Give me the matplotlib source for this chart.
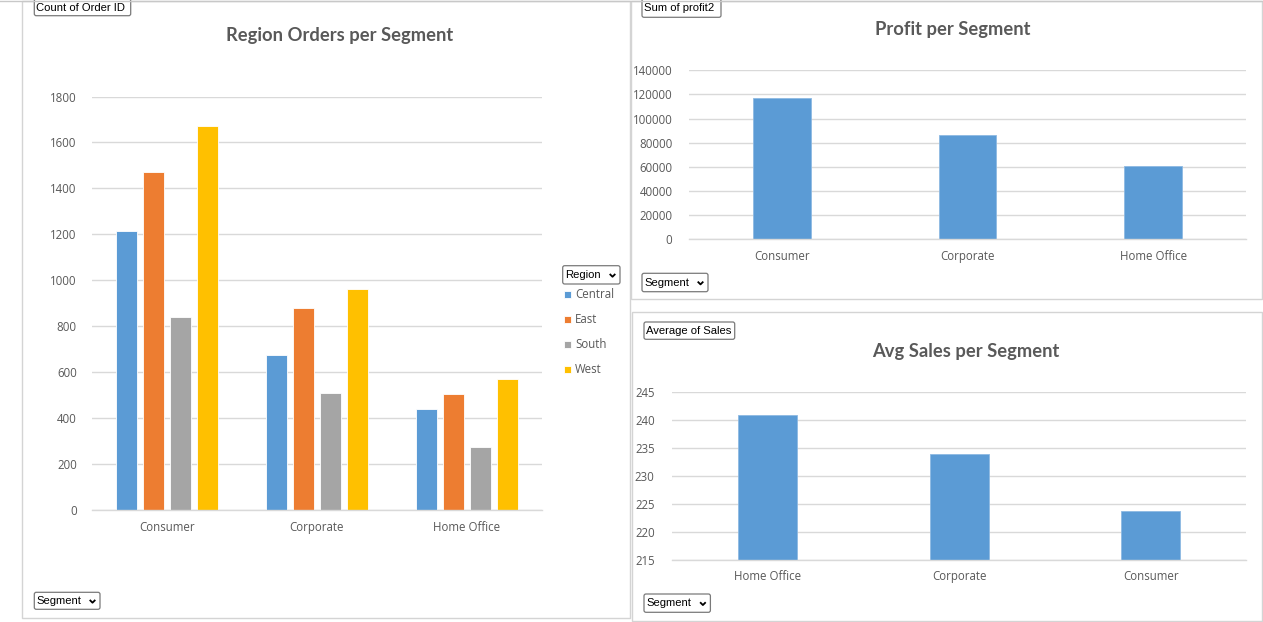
import matplotlib
matplotlib.use("Agg")
import matplotlib.pyplot as plt
import numpy as np
from matplotlib.patches import FancyBboxPatch, Rectangle
from matplotlib.lines import Line2D

# ---------------- data ----------------
segments = ["Consumer", "Corporate", "Home Office"]
regions = ["Central", "East", "South", "West"]
orders_central = [1212, 673, 438]
orders_east = [1469, 877, 502]
orders_south = [838, 510, 272]
orders_west = [1672, 960, 571]
region_orders = [orders_central, orders_east, orders_south, orders_west]
region_colors = ["#5B9BD5", "#ED7D31", "#A5A5A5", "#FFC000"]

profit_segments = ["Consumer", "Corporate", "Home Office"]
profit_values = [117300, 86600, 60300]

sales_segments = ["Home Office", "Corporate", "Consumer"]
avg_sales_values = [240.97, 233.82, 223.73]

orders_ticks = [0, 200, 400, 600, 800, 1000, 1200, 1400, 1600, 1800]
profit_ticks = [0, 20000, 40000, 60000, 80000, 100000, 120000, 140000]
sales_ticks = [215, 220, 225, 230, 235, 240, 245]

# ---------------- layout helpers ----------------
W, H = 1263, 622
fig = plt.figure(figsize=(W / 100, H / 100), dpi=100)
fig.patch.set_facecolor("white")

TICK_FONT = "Open Sans"
TICK_SIZE = 8.3
TICK_COLOR = "#595959"
GRID_COLOR = "#D9D9D9"


def rect(x0, y0, x1, y1):
    return [x0 / W, 1 - y1 / H, (x1 - x0) / W, (y1 - y0) / H]


def style_axes(ax, ypad, xpad):
    for s in ["top", "right", "left"]:
        ax.spines[s].set_visible(False)
    ax.spines["bottom"].set_color(GRID_COLOR)
    ax.spines["bottom"].set_linewidth(1.0)
    ax.yaxis.grid(True, color=GRID_COLOR, linewidth=1.0)
    ax.set_axisbelow(True)
    ax.tick_params(axis="both", length=0, colors=TICK_COLOR, labelsize=TICK_SIZE)
    ax.tick_params(axis="y", pad=ypad)
    ax.tick_params(axis="x", pad=xpad)
    for lab in ax.get_xticklabels() + ax.get_yticklabels():
        lab.set_fontfamily(TICK_FONT)
    ax.set_facecolor("none")


# overlay axes in pixel coordinates for panel frames, titles, buttons
ov = fig.add_axes([0, 0, 1, 1], zorder=-1)
ov.set_xlim(0, W)
ov.set_ylim(H, 0)
ov.axis("off")

# spreadsheet line at top
ov.add_line(Line2D([0, W], [0.8, 0.8], color="#C8C8C8", lw=1))
# panel frames
for (x0, y0, x1, y1) in [(21.7, 0.8, 630, 618), (631, 0.8, 1261.5, 299), (632, 311.7, 1261.5, 620.5)]:
    ov.add_patch(Rectangle((x0, y0), x1 - x0, y1 - y0, fill=False, ec="#D4D4D4", lw=1))

# ---------------- left: grouped bars ----------------
ax1 = fig.add_axes(rect(92, 96.5, 542, 509.7))
x = np.arange(len(segments))
step, width = 0.18, 0.14
handles = []
for i, (reg, vals, col) in enumerate(zip(regions, region_orders, region_colors)):
    b = ax1.bar(x + (i - 1.5) * step, vals, width=width, color=col,
                edgecolor="white", linewidth=0.6, label=reg)
    handles.append(b)
ax1.set_xlim(-0.5, 2.5)
ax1.set_ylim(0, 1800)
ax1.set_yticks(orders_ticks)
ax1.set_xticks(x)
ax1.set_xticklabels(segments)
style_axes(ax1, ypad=11, xpad=8)

leg = fig.legend(handles=handles, labels=regions, loc="upper left",
                 bbox_to_anchor=(563.5 / W, 1 - 288.5 / H), frameon=False,
                 prop={"family": TICK_FONT, "size": TICK_SIZE},
                 handlelength=0.62, handleheight=0.62, handletextpad=0.38,
                 labelspacing=1.04, borderpad=0, borderaxespad=0)
for t in leg.get_texts():
    t.set_color(TICK_COLOR)

# ---------------- right top: profit ----------------
ax2 = fig.add_axes(rect(689, 70.3, 1246, 239))
xp = np.arange(len(profit_segments))
ax2.bar(xp, profit_values, width=0.31, color="#5B9BD5", edgecolor="#8DB9E3", linewidth=0.6)
ax2.set_xlim(-0.5, 2.5)
ax2.set_ylim(0, 140000)
ax2.set_yticks(profit_ticks)
ax2.set_xticks(xp)
ax2.set_xticklabels(profit_segments)
style_axes(ax2, ypad=12, xpad=8)

# ---------------- right bottom: avg sales ----------------
ax3 = fig.add_axes(rect(672, 392, 1246.4, 559.7))
xs = np.arange(len(sales_segments))
ax3.bar(xs, avg_sales_values, width=0.31, color="#5B9BD5", edgecolor="#8DB9E3", linewidth=0.6)
ax3.set_xlim(-0.5, 2.5)
ax3.set_ylim(215, 245)
ax3.set_yticks(sales_ticks)
ax3.set_xticks(xs)
ax3.set_xticklabels(sales_segments)
style_axes(ax3, ypad=12.5, xpad=7.5)

# ---------------- titles ----------------
TITLE_KW = dict(ha="center", va="center", color="#595959", fontfamily="Lato",
                fontweight="bold", fontsize=13.2)
ov.text(340, 35, "Region Orders per Segment", **TITLE_KW)
ov.text(953, 30, "Profit per Segment", **TITLE_KW)
ov.text(965.5, 352, "Avg Sales per Segment", **TITLE_KW)

# ---------------- field buttons ----------------
BTN_KW = dict(ha="left", va="center", color="black", fontfamily="Liberation Sans", fontsize=8.1)


def button(x0, y0, x1, y1, text, chevron=False):
    ov.add_patch(FancyBboxPatch((x0, y0), x1 - x0, y1 - y0,
                                boxstyle="round,pad=0,rounding_size=2",
                                fc="white", ec="#7A7A7A", lw=0.9))
    ov.text(x0 + 2.2, (y0 + y1) / 2 + 0.3, text, **BTN_KW)
    if chevron:
        cx = x1 - 7.5
        cy = (y0 + y1) / 2 + 0.5
        ov.add_line(Line2D([cx - 2.8, cx, cx + 2.8], [cy - 1.4, cy + 1.4, cy - 1.4],
                           color="black", lw=1.3, solid_capstyle="butt"))


button(34.3, -1, 130.7, 15.7, "Count of Order ID")
button(34.3, 592.3, 100, 609.3, "Segment", chevron=True)
button(562.7, 265.7, 620, 284, "Region", chevron=True)
button(642, -1, 721, 17.3, "Sum of profit2")
button(642, 273.3, 708, 291.7, "Segment", chevron=True)
button(644, 322, 734.7, 339.3, "Average of Sales")
button(644, 594, 710.4, 612.3, "Segment", chevron=True)

fig.savefig("out.png", dpi=100, facecolor="white")
